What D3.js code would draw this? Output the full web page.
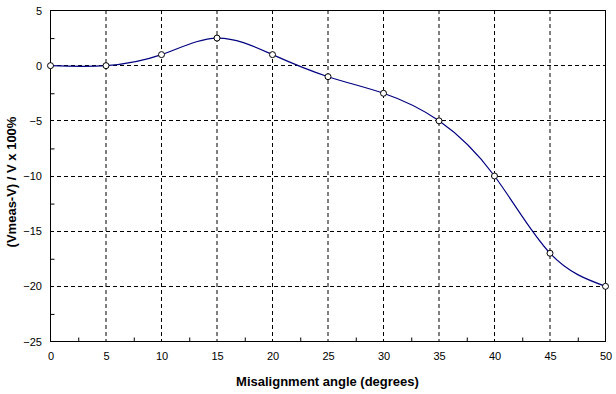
<!DOCTYPE html>
<html><head><meta charset="utf-8">
<script src="https://cdn.jsdelivr.net/npm/d3@7"></script>
<style>body{margin:0;background:#fff}svg{display:block}</style>
</head><body>
<script>
const angles = [0, 5, 10, 15, 20, 25, 30, 35, 40, 45, 50];
const errors = [0, 0, 1, 2.5, 1, -1, -2.5, -5, -10, -17, -20];
const xTicks = [0, 5, 10, 15, 20, 25, 30, 35, 40, 45, 50];
const yTicks = [5, 0, -5, -10, -15, -20, -25];
const xTitle = "Misalignment angle (degrees)";
const yTitle = "(Vmeas-V) / V x 100%";

const W = 616, H = 394;
const m = {l: 50, r: 11, t: 10, b: 53};
const svg = d3.select("body").append("svg").attr("width", W).attr("height", H);
const x = d3.scaleLinear().domain([0, 50]).range([m.l, W - m.r]);
const y = d3.scaleLinear().domain([-25, 5]).range([H - m.b, m.t]);

const font = "Liberation Sans, Arial, sans-serif";
// grid
const g = svg.append("g");
g.selectAll("line.vx").data(xTicks.slice(1, -1)).enter().append("line")
  .attr("x1", d => x(d) + 0.5).attr("x2", d => x(d) + 0.5)
  .attr("y1", y(5)).attr("y2", y(-25))
  .attr("stroke", "#000").attr("stroke-dasharray", "4,3");
g.selectAll("line.hy").data(yTicks.slice(1, -1)).enter().append("line")
  .attr("y1", d => Math.round(y(d)) + 0.5).attr("y2", d => Math.round(y(d)) + 0.5)
  .attr("x1", x(0)).attr("x2", x(50))
  .attr("stroke", "#000").attr("stroke-dasharray", "4,3");

// frame
svg.append("rect").attr("x", x(0) + 0.5).attr("y", y(5) + 0.5)
  .attr("width", x(50) - x(0)).attr("height", y(-25) - y(5))
  .attr("fill", "none").attr("stroke", "#000");

// axes
const xAxis = d3.axisBottom(x).tickValues(xTicks).tickSize(0).tickPadding(11).tickFormat(d3.format("d"));
const xa = svg.append("g").attr("transform", `translate(0.5,${y(-25)})`).call(xAxis);
xa.select(".domain").remove();
xa.selectAll("text").attr("font-family", font).attr("font-size", 11).attr("fill", "#000");
const xMinor = d3.axisBottom(x).tickValues(d3.range(2.5, 50, 5)).tickSize(-4).tickFormat("");
svg.append("g").attr("transform", `translate(0.5,${y(-25)+0.5})`).call(xMinor).select(".domain").remove();

const yAxis = d3.axisLeft(y).tickValues(yTicks).tickSize(0).tickPadding(8).tickFormat(d3.format("d"));
const ya = svg.append("g").attr("transform", `translate(${x(0)},0.5)`).call(yAxis);
ya.select(".domain").remove();
ya.selectAll("text").attr("font-family", font).attr("font-size", 11).attr("fill", "#000");
const yMinor = d3.axisLeft(y).tickValues(d3.range(-22.5, 5, 5)).tickSize(-4).tickFormat("");
svg.append("g").attr("transform", `translate(${x(0)+0.5},0.5)`).call(yMinor).select(".domain").remove();

// line
const pts = angles.map((a, i) => [a, errors[i]]);
svg.append("path").datum(pts)
  .attr("d", d3.line().x(d => x(d[0]) + 0.5).y(d => y(d[1]) + 0.5).curve(d3.curveNatural))
  .attr("fill", "none").attr("stroke", "#000080").attr("stroke-width", 1.2);
svg.selectAll("circle.pt").data(pts).enter().append("circle")
  .attr("cx", d => x(d[0]) + 0.5).attr("cy", d => y(d[1]) + 0.5).attr("r", 3)
  .attr("fill", "#fff").attr("stroke", "#000");

// titles
svg.append("text").attr("x", (x(0) + x(50)) / 2).attr("y", 386)
  .attr("text-anchor", "middle").attr("font-family", font).attr("font-weight", "bold")
  .attr("font-size", 13).text(xTitle);
svg.append("text").attr("transform", `translate(16,182) rotate(-90)`)
  .attr("text-anchor", "middle").attr("font-family", font).attr("font-weight", "bold")
  .attr("font-size", 13).text(yTitle);
</script>
</body></html>
